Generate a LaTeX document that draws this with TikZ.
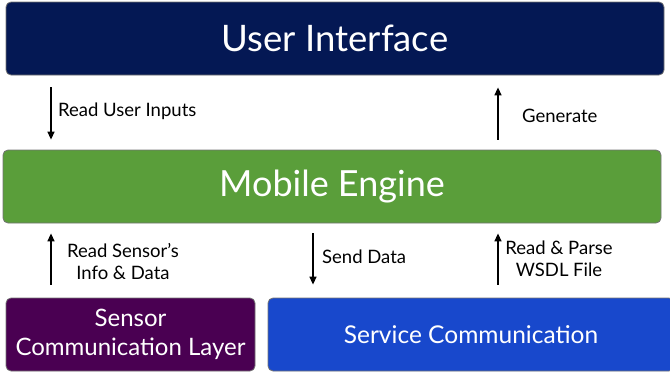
\documentclass[tikz,border=0pt]{standalone}
\usepackage{fontspec}
\setmainfont{Lato}
\usetikzlibrary{arrows.meta}
\definecolor{uinavy}{RGB}{4,24,84}
\definecolor{enggreen}{RGB}{90,158,58}
\definecolor{senspurple}{RGB}{74,0,82}
\definecolor{servblue}{RGB}{24,72,204}
\begin{document}
\begin{tikzpicture}[x=1pt,y=-1pt,
  box/.style={draw=black!55, line width=0.8pt, rounded corners=5pt,
    text=white, align=center, inner sep=0pt, minimum height=73pt},
  arr/.style={line width=1.4pt, -{Triangle[length=8pt,width=7pt]}},
  lbl/.style={font=\fontsize{18.5}{22}\selectfont, align=center, inner sep=0pt}]
\useasboundingbox (0,0) rectangle (670,372);

% layers
\node[box, fill=uinavy, minimum width=658pt, font=\fontsize{36.5}{42}\selectfont]
  (ui) at (335,38.5) {User Interface};
\node[box, fill=enggreen, minimum width=658pt, font=\fontsize{36}{42}\selectfont]
  (eng) at (332,186.5) {Mobile Engine};
\node[box, fill=senspurple, minimum width=249pt, font=\fontsize{24}{29}\selectfont]
  (sens) at (130.5,334.5) {Sensor\\Communication Layer};
\node[box, fill=servblue, minimum width=406pt, font=\fontsize{24.5}{29}\selectfont]
  (serv) at (471,334.5) {Service Communication};

% arrow columns
\coordinate (cl) at (51,0);
\coordinate (cm) at (313,0);
\coordinate (cr) at (498,0);

% connectors
\draw[arr, shorten <=12pt, shorten >=10pt] (ui.south -| cl) -- (eng.north -| cl);
\draw[arr, shorten <=10pt, shorten >=12pt] (eng.north -| cr) -- (ui.south -| cr);
\draw[arr, shorten <=13pt, shorten >=10pt] (sens.north -| cl) -- (eng.south -| cl);
\draw[arr, shorten <=10pt, shorten >=13pt] (eng.south -| cm) -- (serv.north -| cm);
\draw[arr, shorten <=13pt, shorten >=10pt] (serv.north -| cr) -- (eng.south -| cr);

% labels
\node[lbl, anchor=west] (l1) at (58,111) {Read User Inputs};
\node[lbl, anchor=west] (l2) at (522,116) {Generate};
\node[lbl] (l3) at (123,262) {Read Sensor’s\\Info \& Data};
\node[lbl, anchor=west] (l4) at (322,257) {Send Data};
\node[lbl] (l5) at (559,259) {Read \& Parse\\WSDL File};
\end{tikzpicture}
\end{document}
